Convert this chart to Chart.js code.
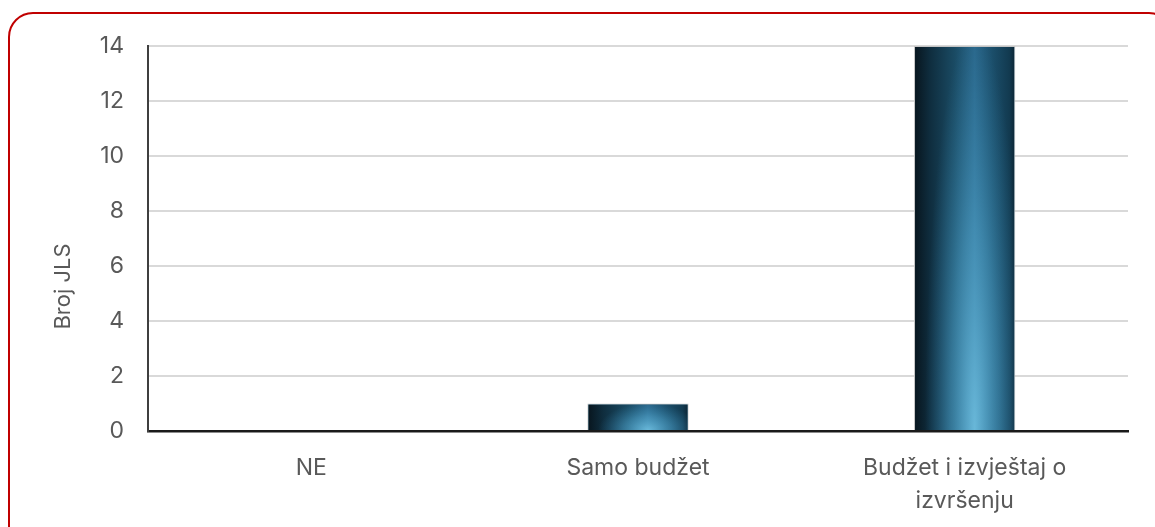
<!DOCTYPE html>
<html>
<head>
<meta charset="utf-8">
<script src="https://cdn.jsdelivr.net/npm/chart.js@4"></script>
<style>
  html, body { margin: 0; padding: 0; background: #fff; overflow: hidden; }
  #wrap { position: relative; width: 1155px; height: 527px; }
  #frame {
    position: absolute; left: 8px; top: 12px; width: 1162px; height: 600px;
    border: 2px solid #c00000; border-radius: 25px; pointer-events: none;
  }
  canvas { position: absolute; left: 0; top: 0; }
</style>
</head>
<body>
<div id="wrap">
  <canvas id="chart" width="1155" height="527"></canvas>
  <div id="frame"></div>
</div>
<script>
const categories = ['NE', 'Samo budžet', ['Budžet i izvještaj o', 'izvršenju']];
const counts = [0, 1, 14];
const yMin = 0, yMax = 14, yStep = 2;
const yTitle = 'Broj JLS';

const textColor = '#595959';
const fontFamily = 'Inter, "Open Sans", sans-serif';

// paints the metallic blue look over each bar, using the bar geometry from chart.js
const barShade = {
    id: 'barShade',
    afterDatasetsDraw(chart) {
        const ctx = chart.ctx;
        chart.getDatasetMeta(0).data.forEach(bar => {
            const p = bar.getProps(['x', 'y', 'base', 'width'], true);
            const h = p.base - p.y;
            if (h <= 1) return;
            const l = p.x - p.width / 2 + 1;
            const w = p.width - 2;
            const top = p.y + 1;
            const hh = h - 1;
            ctx.save();
            ctx.beginPath();
            ctx.rect(l, top, w, hh);
            ctx.clip();
            const g = ctx.createLinearGradient(l, 0, l + w, 0);
            g.addColorStop(0, '#08161f');
            g.addColorStop(0.15, '#0f2d3e');
            g.addColorStop(0.4, '#1a4b64');
            g.addColorStop(0.6, '#29668a');
            g.addColorStop(0.78, '#1b4e6a');
            g.addColorStop(0.95, '#123a50');
            g.addColorStop(1, '#0d2838');
            ctx.fillStyle = g;
            ctx.fillRect(l, top, w, hh);
            // light glow rising from the bottom
            ctx.translate(l + w * 0.6, p.base);
            ctx.scale(w * 0.5, Math.max(hh * 1.05, 20));
            const r = ctx.createRadialGradient(0, 0, 0, 0, 0, 1);
            r.addColorStop(0, 'rgba(95,170,215,0.8)');
            r.addColorStop(0.5, 'rgba(65,140,190,0.45)');
            r.addColorStop(1, 'rgba(40,110,160,0)');
            ctx.globalCompositeOperation = 'screen';
            ctx.fillStyle = r;
            ctx.fillRect(-3, -1.2, 6, 1.2);
            ctx.restore();
        });
    }
};

// y axis title sits a little below the middle of the axis
const axisTitle = {
    id: 'axisTitle',
    afterDraw(chart) {
        const ctx = chart.ctx;
        const a = chart.chartArea;
        ctx.save();
        ctx.translate(a.left - 85, (a.top + a.bottom) / 2 + 48);
        ctx.rotate(-Math.PI / 2);
        ctx.fillStyle = textColor;
        ctx.font = '22px ' + fontFamily;
        ctx.textAlign = 'center';
        ctx.textBaseline = 'middle';
        ctx.fillText(yTitle, 0, 0);
        ctx.restore();
    }
};

new Chart(document.getElementById('chart').getContext('2d'), {
    type: 'bar',
    data: {
        labels: categories,
        datasets: [{
            data: counts,
            backgroundColor: '#1b4d66',
            borderColor: '#c4c4c4',
            borderWidth: 1,
            barPercentage: 0.31,
            categoryPercentage: 1
        }]
    },
    options: {
        responsive: false,
        animation: false,
        layout: { padding: { left: 46, top: 46, right: 27, bottom: 0 } },
        plugins: { legend: { display: false }, tooltip: { enabled: false } },
        scales: {
            x: {
                grid: { display: false },
                border: { color: '#1a1a1a', width: 2.5 },
                ticks: {
                    color: textColor,
                    padding: 12,
                    maxRotation: 0,
                    autoSkip: false,
                    font: { family: fontFamily, size: 23, lineHeight: 1.45 }
                },
                afterFit: s => { s.height = 96; }
            },
            y: {
                min: yMin,
                max: yMax,
                grid: {
                    color: c => c.tick && c.tick.value === 0 ? '#1a1a1a' : '#d9d9d9',
                    lineWidth: 2,
                    drawTicks: false
                },
                border: { color: '#3f3f3f', width: 2 },
                ticks: {
                    stepSize: yStep,
                    color: textColor,
                    padding: 24,
                    font: { family: fontFamily, size: 23 }
                },
                afterFit: s => { s.width = 102; }
            }
        }
    },
    plugins: [barShade, axisTitle]
});
</script>
</body>
</html>
